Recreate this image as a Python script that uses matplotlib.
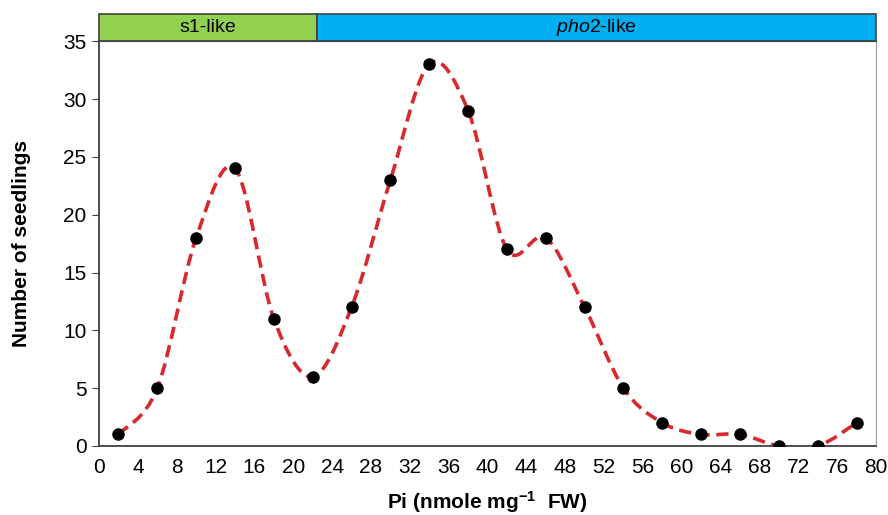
import matplotlib.pyplot as plt
import numpy as np
from matplotlib.path import Path
from matplotlib.patches import PathPatch, Rectangle
import matplotlib.transforms as mtransforms

plt.rcParams['font.family'] = ['Liberation Sans', 'DejaVu Sans']
plt.rcParams['mathtext.fontset'] = 'custom'
plt.rcParams['mathtext.rm'] = 'Liberation Sans'
plt.rcParams['mathtext.it'] = 'Liberation Sans:italic'
plt.rcParams['mathtext.bf'] = 'Liberation Sans:bold'

# data
pi_values = [2, 6, 10, 14, 18, 22, 26, 30, 34, 38, 42, 46, 50, 54, 58, 62, 66, 70, 74, 78]
seedlings = [1, 5, 18, 24, 11, 6, 12, 23, 33, 29, 17, 18, 12, 5, 2, 1, 1, 0, 0, 2]
x_ticks = list(range(0, 81, 4))
y_ticks = list(range(0, 36, 5))
groups = ['s1-like', r'$\it{pho2}$-like']
group_edges = [0, 22.4, 80]
group_colors = ['#92D050', '#00B0F0']


def smooth_path(xs, ys, t=1/6):
    # Excel-like smoothed line: cubic bezier through each point
    pts = np.column_stack([xs, ys]).astype(float)
    n = len(pts)
    verts = [pts[0]]
    codes = [Path.MOVETO]
    for i in range(n - 1):
        p0 = pts[i - 1] if i > 0 else pts[i]
        p1 = pts[i]
        p2 = pts[i + 1]
        p3 = pts[i + 2] if i + 2 < n else pts[i + 1]
        c1 = p1 + (p2 - p0) * t
        c2 = p2 - (p3 - p1) * t
        verts += [c1, c2, p2]
        codes += [Path.CURVE4] * 3
    return Path(verts, codes)


fig = plt.figure(figsize=(8.88, 5.15), dpi=100)
ax = fig.add_axes([0.1115, 0.134, 0.875, 0.786])

curve = PathPatch(smooth_path(pi_values, seedlings), facecolor='none',
                  edgecolor='#D7282E', linewidth=2.6, linestyle=(0, (3.4, 1.8)),
                  zorder=2)
ax.add_patch(curve)
ax.plot(pi_values, seedlings, 'o', color='black', markersize=8, zorder=3)

ax.set_xlim(0, 80)
ax.set_ylim(0, 35)
ax.set_xticks(x_ticks)
ax.set_yticks(y_ticks)
ax.tick_params(axis='x', length=0, labelsize=15, pad=9)
ax.tick_params(axis='y', length=5, labelsize=15, color='#404040', pad=4)

for side in ['left', 'bottom']:
    ax.spines[side].set_color('#404040')
    ax.spines[side].set_linewidth(1.3)
ax.spines['right'].set_color('#999999')
ax.spines['top'].set_color('#404040')

ax.set_ylabel('Number of seedlings', fontsize=15, fontweight='bold', labelpad=23)
ax.set_xlabel(r'Pi (nmole mg$^{\mathbf{-1}}$  FW)', fontsize=15, fontweight='bold', labelpad=8)

# header bar above the plot
trans = mtransforms.blended_transform_factory(ax.transData, ax.transAxes)
bar_h = 27 / 405
for i, name in enumerate(groups):
    x0, x1 = group_edges[i], group_edges[i + 1]
    ax.add_patch(Rectangle((x0, 1.0), x1 - x0, bar_h, transform=trans,
                           facecolor=group_colors[i], edgecolor='#404040',
                           linewidth=1.2, clip_on=False))
    ax.text((x0 + x1) / 2, 1 + bar_h / 2, name, transform=trans,
            ha='center', va='center', fontsize=14)

fig.savefig('out.png', dpi=100)
